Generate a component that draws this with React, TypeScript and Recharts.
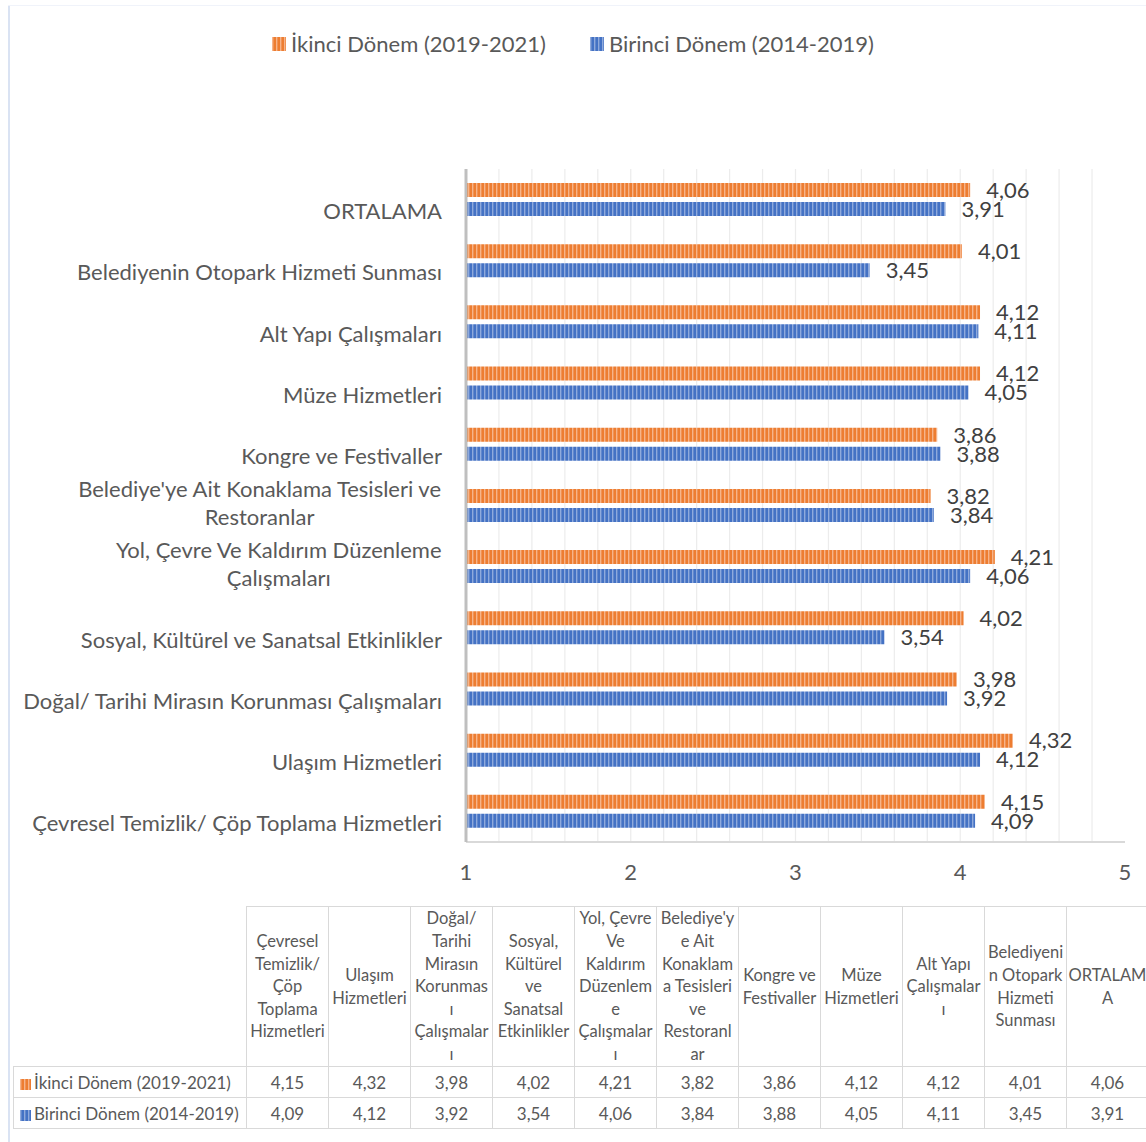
import React from "react";
import { Bar, BarChart, CartesianGrid, LabelList, Legend, XAxis, YAxis } from "recharts";

const categories = [
  "Çevresel Temizlik/ Çöp Toplama Hizmetleri",
  "Ulaşım Hizmetleri",
  "Doğal/ Tarihi Mirasın Korunması Çalışmaları",
  "Sosyal, Kültürel ve Sanatsal Etkinlikler",
  "Yol, Çevre Ve Kaldırım Düzenleme Çalışmaları",
  "Belediye'ye Ait Konaklama Tesisleri ve Restoranlar",
  "Kongre ve Festivaller",
  "Müze Hizmetleri",
  "Alt Yapı Çalışmaları",
  "Belediyenin Otopark Hizmeti Sunması",
  "ORTALAMA",
];
const ikinci = [4.15, 4.32, 3.98, 4.02, 4.21, 3.82, 3.86, 4.12, 4.12, 4.01, 4.06];
const birinci = [4.09, 4.12, 3.92, 3.54, 4.06, 3.84, 3.88, 4.05, 4.11, 3.45, 3.91];
const xTicks = [1, 2, 3, 4, 5];

const seriesNames = { ikinci: "İkinci Dönem (2019-2021)", birinci: "Birinci Dönem (2014-2019)" };

// how the labels wrap on the axis and in the data table header
const axisWrap: Record<string, string[]> = {
  "Belediye'ye Ait Konaklama Tesisleri ve Restoranlar": ["Belediye'ye Ait Konaklama Tesisleri ve", "Restoranlar"],
  "Yol, Çevre Ve Kaldırım Düzenleme Çalışmaları": ["Yol, Çevre Ve Kaldırım Düzenleme", "Çalışmaları"],
};
const headerLines = [
  ["Çevresel", "Temizlik/", "Çöp", "Toplama", "Hizmetleri"],
  ["Ulaşım", "Hizmetleri"],
  ["Doğal/", "Tarihi", "Mirasın", "Korunmas", "ı", "Çalışmalar", "ı"],
  ["Sosyal,", "Kültürel", "ve", "Sanatsal", "Etkinlikler"],
  ["Yol, Çevre", "Ve", "Kaldırım", "Düzenlem", "e", "Çalışmalar", "ı"],
  ["Belediye'y", "e Ait", "Konaklam", "a Tesisleri", "ve", "Restoranl", "ar"],
  ["Kongre ve", "Festivaller"],
  ["Müze", "Hizmetleri"],
  ["Alt Yapı", "Çalışmalar", "ı"],
  ["Belediyeni", "n Otopark", "Hizmeti", "Sunması"],
  ["ORTALAM", "A"],
];

const ORANGE = "#ED7D31";
const BLUE = "#4472C4";
const FONT = "Lato, 'Open Sans', sans-serif";
const FS = 22;
const TEXT = "#595959";

const fmt = (v: any) => Number(v).toFixed(2).replace(".", ",");

const chartData = categories
  .map((name, i) => ({ name, ikinci: ikinci[i], birinci: birinci[i] }))
  .reverse();

const gridValues = Array.from({ length: 19 }, (_, i) => 1.2 + i * 0.2);

let ctx: CanvasRenderingContext2D | null = null;
function textWidth(s: string) {
  if (!ctx) ctx = document.createElement("canvas").getContext("2d");
  if (!ctx) return s.length * 9;
  ctx.font = `${FS}px ${FONT}`;
  return ctx.measureText(s).width;
}

function YTick(props: any) {
  const { x, y, payload } = props;
  const lines = axisWrap[payload.value] ?? [payload.value];
  const last = lines.length - 1;
  const style = { fontFamily: FONT, fontSize: FS, fill: TEXT };
  if (lines.length === 1) {
    return (
      <text x={x} y={y + 12} dy="0.35em" textAnchor="end" style={style}>
        {payload.value}
      </text>
    );
  }
  const w = Math.max(...lines.map(textWidth));
  return (
    <g>
      {lines.map((l: string, i: number) => (
        <text key={i} x={x - w / 2} y={y + 12 - (last - i) * 28.5} dy="0.35em" textAnchor="middle" style={style}>
          {l}
        </text>
      ))}
    </g>
  );
}

function XTick(props: any) {
  const { x, y, payload } = props;
  return (
    <text x={x} y={y + 30} dy="0.35em" textAnchor="middle" style={{ fontFamily: FONT, fontSize: FS, fill: TEXT }}>
      {payload.value}
    </text>
  );
}

function LegendBox() {
  const items = [
    { name: seriesNames.ikinci, fill: "url(#patO)" },
    { name: seriesNames.birinci, fill: "url(#patB)" },
  ];
  return (
    <div style={{ display: "flex", justifyContent: "center", gap: 44, fontFamily: FONT, fontSize: FS, color: TEXT }}>
      {items.map((it) => (
        <div key={it.name} style={{ display: "flex", alignItems: "center", gap: 5 }}>
          <svg width={14} height={14}>
            <rect width={14} height={14} fill={it.fill} />
          </svg>
          <span>{it.name}</span>
        </div>
      ))}
    </div>
  );
}

function Swatch({ fill }: { fill: string }) {
  return (
    <svg width={11} height={11} style={{ marginRight: 3, verticalAlign: "-1px" }}>
      <rect width={11} height={11} fill={fill} />
    </svg>
  );
}

const cellBorder = "1px solid #d9d9d9";

function DataTable() {
  const rows = [
    { name: seriesNames.ikinci, fill: "url(#patO)", values: ikinci },
    { name: seriesNames.birinci, fill: "url(#patB)", values: birinci },
  ];
  const td: React.CSSProperties = {
    border: cellBorder,
    textAlign: "center",
    padding: 0,
    height: 30,
    fontSize: 17,
  };
  return (
    <div style={{ position: "absolute", left: 13, top: 906, width: 1133, overflow: "hidden" }}>
      <table
        style={{
          borderCollapse: "collapse",
          tableLayout: "fixed",
          width: 233 + 82 * 11,
          fontFamily: FONT,
          color: TEXT,
        }}
      >
        <colgroup>
          <col style={{ width: 233 }} />
          {categories.map((c) => (
            <col key={c} style={{ width: 82 }} />
          ))}
        </colgroup>
        <tbody>
          <tr>
            <td style={{ border: "none" }} />
            {headerLines.map((lines, i) => (
              <td
                key={i}
                style={{ border: cellBorder, textAlign: "center", verticalAlign: "middle", height: 159, padding: 0, fontSize: 16.5, lineHeight: "22.6px" }}
              >
                {lines.map((l, j) => (
                  <div key={j} style={{ whiteSpace: "nowrap" }}>
                    {l}
                  </div>
                ))}
              </td>
            ))}
          </tr>
          {rows.map((r) => (
            <tr key={r.name}>
              <td style={{ ...td, textAlign: "left", paddingLeft: 6, whiteSpace: "nowrap" }}>
                <Swatch fill={r.fill} />
                {r.name}
              </td>
              {r.values.map((v, i) => (
                <td key={i} style={td}>
                  {fmt(v)}
                </td>
              ))}
            </tr>
          ))}
        </tbody>
      </table>
    </div>
  );
}

export default function App() {
  return (
    <div style={{ position: "absolute", left: 0, top: 0, width: 1146, height: 1142, background: "#fff", overflow: "hidden" }}>
      <svg width={0} height={0} style={{ position: "absolute" }}>
        <defs>
          <pattern id="patO" width={4} height={4} patternUnits="userSpaceOnUse">
            <rect width={4} height={4} fill={ORANGE} />
            <rect x={0} width={1.4} height={4} fill="#F6B48A" />
          </pattern>
          <pattern id="patB" width={4} height={4} patternUnits="userSpaceOnUse">
            <rect width={4} height={4} fill={BLUE} />
            <rect x={0} width={1.4} height={4} fill="#8FAADC" />
          </pattern>
        </defs>
      </svg>
      <div style={{ position: "absolute", left: 8, top: 5, width: 2, height: 1137, background: "#dae3f3" }} />
      <div style={{ position: "absolute", left: 8, top: 5, width: 1138, height: 1, background: "#f0f3fa" }} />
      <div style={{ position: "absolute", left: 0, top: 0 }}>
        <BarChart
          width={1146}
          height={900}
          data={chartData}
          layout="vertical"
          margin={{ top: 169, right: 21, bottom: 0, left: 0 }}
          barSize={14}
          barGap={5}
          style={{ fontFamily: FONT }}
        >
          <CartesianGrid horizontal={false} verticalValues={gridValues} stroke="#ececec" strokeWidth={1.2} />
          <XAxis
            type="number"
            domain={[1, 5]}
            ticks={xTicks}
            height={58}
            tickLine={false}
            tickSize={0}
            tickMargin={0}
            axisLine={{ stroke: "#d9d9d9", strokeWidth: 2 }}
            tick={XTick}
            interval={0}
          />
          <XAxis
            xAxisId="top"
            orientation="top"
            type="number"
            domain={[1, 5]}
            height={0}
            tick={false}
            tickLine={false}
            axisLine={{ stroke: "#d9d9d9", strokeWidth: 2 }}
          />
          <YAxis
            type="category"
            dataKey="name"
            width={466}
            tickLine={false}
            tickSize={0}
            tickMargin={24}
            axisLine={{ stroke: "#bfbfbf", strokeWidth: 3 }}
            tick={YTick}
            interval={0}
          />
          <YAxis
            yAxisId="right"
            orientation="right"
            type="category"
            dataKey="name"
            width={0}
            tick={false}
            tickLine={false}
            axisLine={{ stroke: "#d9d9d9", strokeWidth: 2 }}
          />
          <Legend
            verticalAlign="middle"
            layout="horizontal"
            content={() => <LegendBox />}
            wrapperStyle={{ top: 30, left: 0, width: 1146 }}
          />
          <Bar dataKey="ikinci" name={seriesNames.ikinci} fill="url(#patO)" isAnimationActive={false}>
            <LabelList
              dataKey="ikinci"
              position="right"
              offset={16}
              formatter={fmt}
              style={{ fill: "#404040", fontSize: FS, fontFamily: FONT }}
            />
          </Bar>
          <Bar dataKey="birinci" name={seriesNames.birinci} fill="url(#patB)" isAnimationActive={false}>
            <LabelList
              dataKey="birinci"
              position="right"
              offset={16}
              formatter={fmt}
              style={{ fill: "#404040", fontSize: FS, fontFamily: FONT }}
            />
          </Bar>
        </BarChart>
      </div>
      <DataTable />
    </div>
  );
}
